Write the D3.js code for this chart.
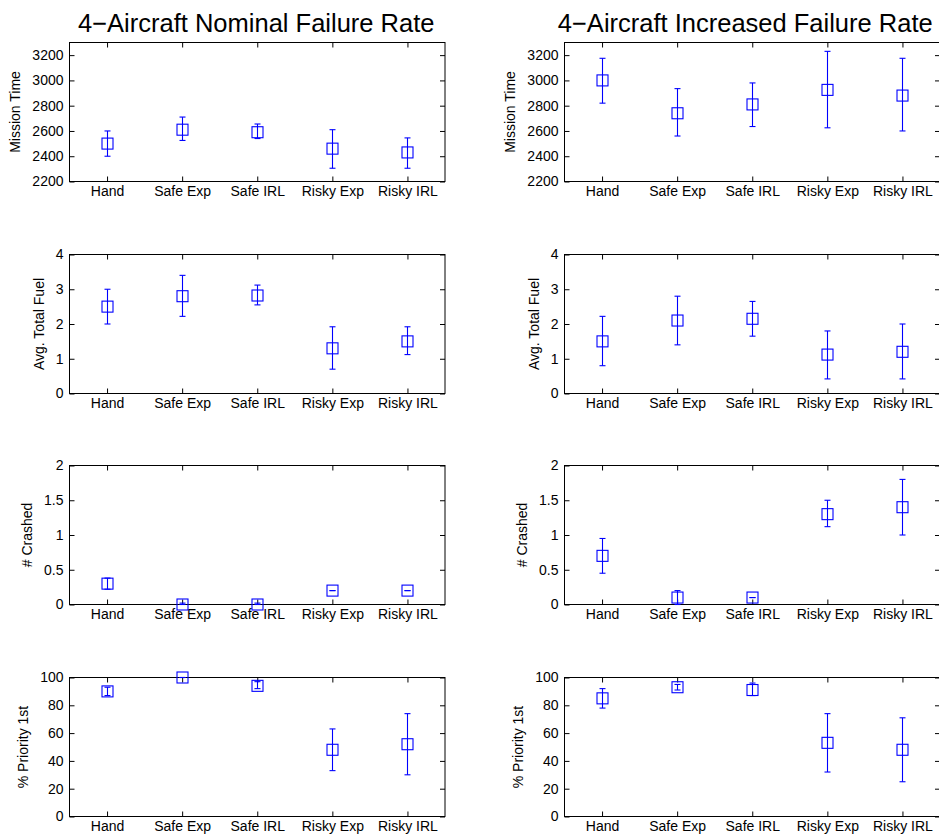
<!DOCTYPE html>
<html><head><meta charset="utf-8">
<script src="https://cdn.jsdelivr.net/npm/d3@7"></script>
<style>body{margin:0;background:#fff}svg{display:block}text{font-family:"Liberation Sans",Arial,sans-serif}</style>
</head><body>
<svg id="c" width="939" height="835"></svg>
<script>
const categories = ["Hand", "Safe Exp", "Safe IRL", "Risky Exp", "Risky IRL"];
const panelTitles = ["4\u2212Aircraft Nominal Failure Rate", "4\u2212Aircraft Increased Failure Rate"];
const metricLabels = ["Mission Time", "Avg. Total Fuel", "# Crashed", "% Priority 1st"];
const metricDomains = [[2200, 3300], [0, 4], [0, 2], [0, 100]];
const metricTicks = [[2200, 2400, 2600, 2800, 3000, 3200], [0, 1, 2, 3, 4], [0, 0.5, 1, 1.5, 2], [0, 20, 40, 60, 80, 100]];

// Nominal failure rate: mean, low, high
const nomTimeMean = [2500, 2610, 2590, 2460, 2430];
const nomTimeLow  = [2400, 2525, 2540, 2305, 2305];
const nomTimeHigh = [2600, 2710, 2655, 2610, 2545];
const nomFuelMean = [2.5, 2.8, 2.82, 1.3, 1.5];
const nomFuelLow  = [2.0, 2.22, 2.55, 0.7, 1.12];
const nomFuelHigh = [3.0, 3.4, 3.12, 1.92, 1.92];
const nomCrashMean = [0.3, 0, 0, 0.2, 0.2];
const nomCrashLow  = [0.22, 0, 0, 0.2, 0.2];
const nomCrashHigh = [0.38, 0.02, 0.02, 0.2, 0.2];
const nomPrioMean = [90, 100, 94, 48, 52];
const nomPrioLow  = [87, 100, 92, 33, 30];
const nomPrioHigh = [93, 100, 97, 63, 74];

// Increased failure rate
const incTimeMean = [3000, 2740, 2810, 2925, 2880];
const incTimeLow  = [2820, 2560, 2635, 2625, 2600];
const incTimeHigh = [3175, 2935, 2980, 3230, 3175];
const incFuelMean = [1.5, 2.1, 2.15, 1.12, 1.2];
const incFuelLow  = [0.8, 1.4, 1.65, 0.42, 0.42];
const incFuelHigh = [2.22, 2.8, 2.65, 1.8, 2.0];
const incCrashMean = [0.7, 0.1, 0.1, 1.3, 1.4];
const incCrashLow  = [0.45, 0, 0.1, 1.12, 1.0];
const incCrashHigh = [0.95, 0.2, 0.1, 1.5, 1.8];
const incPrioMean = [85, 93, 91, 53, 48];
const incPrioLow  = [78, 91, 87, 32, 25];
const incPrioHigh = [92, 95, 96, 74, 71];

const panels = [
  [[nomTimeMean, nomTimeLow, nomTimeHigh], [nomFuelMean, nomFuelLow, nomFuelHigh], [nomCrashMean, nomCrashLow, nomCrashHigh], [nomPrioMean, nomPrioLow, nomPrioHigh]],
  [[incTimeMean, incTimeLow, incTimeHigh], [incFuelMean, incFuelLow, incFuelHigh], [incCrashMean, incCrashLow, incCrashHigh], [incPrioMean, incPrioLow, incPrioHigh]]
];

const svg = d3.select("#c");
const colLeft = [69.5, 564.5], colWidth = 375.5;
const rowTop = [42.5, 254.5, 465.5, 677.5], rowH = 139;
const blue = "#0000ff";
const FONT = '"Liberation Sans",Arial,sans-serif';

panels.forEach((col, ci) => {
  const x0 = colLeft[ci];
  const x = d3.scaleLinear().domain([0.5, 5.5]).range([x0, x0 + colWidth]);
  svg.append("text").attr("x", x0 + colWidth / 2 - (ci === 1 ? 7 : 1)).attr("y", 32)
    .attr("text-anchor", "middle").attr("font-size", 25.5).attr("fill", "#000").text(panelTitles[ci]);
  col.forEach((series, ri) => {
    const y0 = rowTop[ri];
    const y = d3.scaleLinear().domain(metricDomains[ri]).range([y0 + rowH, y0]);
    const g = svg.append("g");
    g.append("rect").attr("x", x0).attr("y", y0).attr("width", colWidth).attr("height", rowH)
      .attr("fill", "none").attr("stroke", "#000").attr("stroke-width", 1);
    const yAx = g.append("g").attr("transform", `translate(${x0},0)`)
      .call(d3.axisLeft(y).tickValues(metricTicks[ri]).tickSize(-5).tickPadding(6).tickFormat(d => String(d)));
    yAx.select(".domain").remove();
    yAx.selectAll("text").attr("font-size", 14).attr("fill", "#000").attr("font-family", FONT);
    yAx.selectAll("line").attr("stroke", "#000");
    const yAxR = g.append("g").attr("transform", `translate(${x0 + colWidth},0)`)
      .call(d3.axisRight(y).tickValues(metricTicks[ri]).tickSize(-5).tickFormat(""));
    yAxR.select(".domain").remove();
    yAxR.selectAll("line").attr("stroke", "#000");
    const xAx = g.append("g").attr("transform", `translate(0,${y0 + rowH})`)
      .call(d3.axisBottom(x).tickValues([1, 2, 3, 4, 5]).tickSize(-5).tickPadding(5).tickFormat(d => categories[d - 1]));
    xAx.select(".domain").remove();
    xAx.selectAll("text").attr("font-size", 14).attr("fill", "#000").attr("font-family", FONT);
    xAx.selectAll("line").attr("stroke", "#000");
    const xAxT = g.append("g").attr("transform", `translate(0,${y0})`)
      .call(d3.axisTop(x).tickValues([1, 2, 3, 4, 5]).tickSize(-5).tickFormat(""));
    xAxT.select(".domain").remove();
    xAxT.selectAll("line").attr("stroke", "#000");
    let maxW = 0;
    yAx.selectAll("text").each(function () { maxW = Math.max(maxW, this.getComputedTextLength()); });
    const lx = x0 - 6 - maxW - 12;
    g.append("text").attr("transform", `translate(${lx},${y0 + rowH / 2}) rotate(-90)`)
      .attr("text-anchor", "middle").attr("font-size", 14).attr("fill", "#000").text(metricLabels[ri]);
    const [mean, low, high] = series;
    const dg = g.append("g").attr("stroke", blue).attr("fill", "none").attr("stroke-width", 1.1);
    categories.forEach((c, i) => {
      const cx = Math.round(x(i + 1)) + 0.5;
      dg.append("line").attr("x1", cx).attr("x2", cx).attr("y1", y(low[i])).attr("y2", y(high[i]));
      dg.append("line").attr("x1", cx - 3).attr("x2", cx + 3).attr("y1", y(low[i])).attr("y2", y(low[i]));
      dg.append("line").attr("x1", cx - 3).attr("x2", cx + 3).attr("y1", y(high[i])).attr("y2", y(high[i]));
      dg.append("rect").attr("x", cx - 5.5).attr("y", y(mean[i]) - 5.5).attr("width", 11).attr("height", 11);
    });
  });
});
</script>
</body></html>
